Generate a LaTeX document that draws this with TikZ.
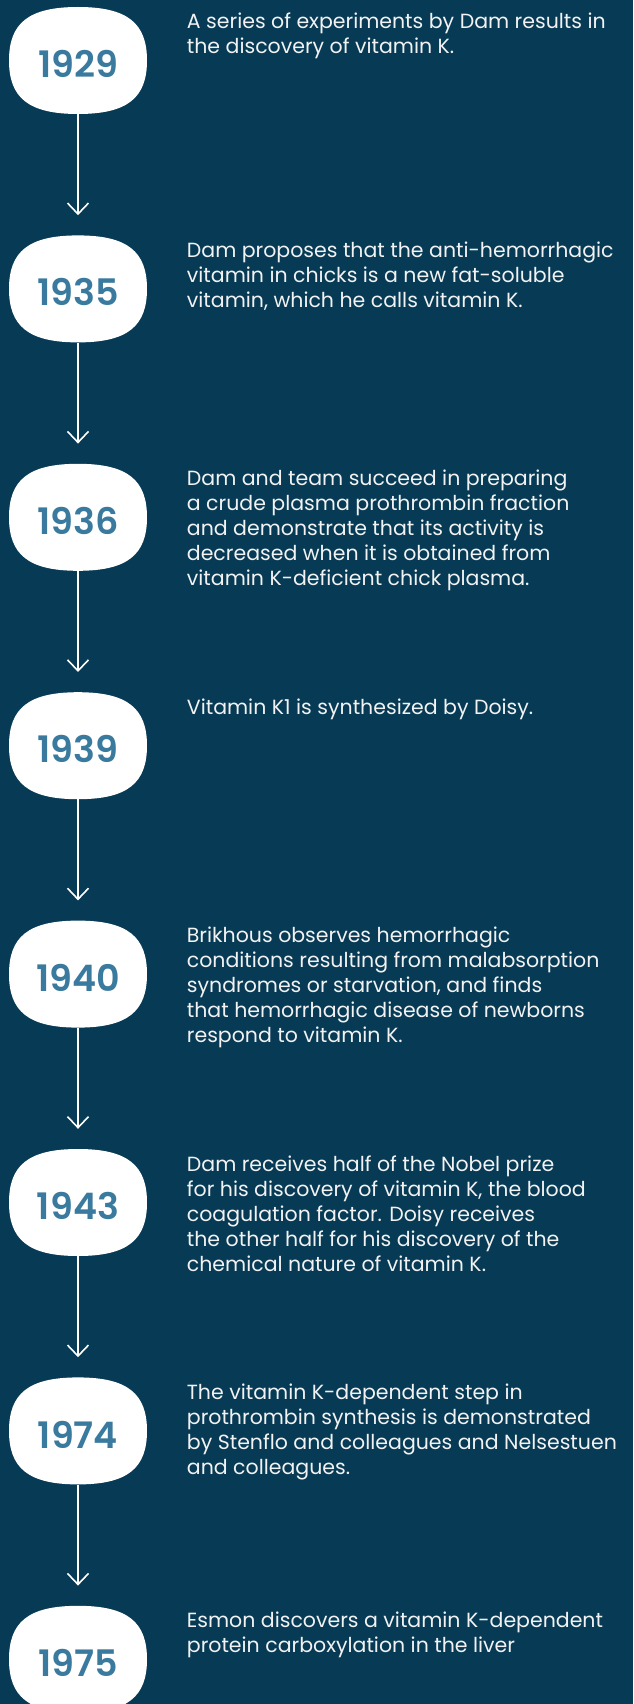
\documentclass[tikz,border=0pt]{standalone}
\usepackage{fontspec}
\setmainfont{Poppins}
\newfontfamily\yearfont{Poppins SemiBold}
\usetikzlibrary{arrows.meta}
\definecolor{bgnavy}{HTML}{063A55}
\definecolor{yearblue}{HTML}{3A7A9E}
\definecolor{txtwhite}{HTML}{F2F2F2}
\newcommand{\desc}[1]{\fontsize{20.5}{25}\selectfont\begin{tabular}[t]{@{}l@{}}#1\end{tabular}}
\newcommand{\squircle}[1]{\fill[white, shift={(#1.center)}]
  (0,-53.5) .. controls (50,-53.5) and (69,-37) .. (69,0)
  .. controls (69,37) and (50,53.5) .. (0,53.5)
  .. controls (-50,53.5) and (-69,37) .. (-69,0)
  .. controls (-69,-37) and (-50,-53.5) .. (0,-53.5) -- cycle;}
\tikzset{
  yearbox/.style={draw=none, fill=none, minimum width=138pt, minimum height=107pt, inner sep=0pt},
  yeartext/.style={text=yearblue, font=\yearfont\fontsize{36.5}{36.5}\selectfont, inner sep=0pt},
  desctext/.style={text=txtwhite, anchor=base west, inner sep=0pt},
  link/.style={draw=white, line width=1.6pt, -{Straight Barb[length=11pt,width=21pt,line width=1.6pt]}, shorten >=20pt}
}
\begin{document}
\begin{tikzpicture}[x=1pt, y=-1pt]
\useasboundingbox (0,0) rectangle (633,1704);
\clip (0,0) rectangle (633,1704);
\fill[bgnavy] (0,0) rectangle (633,1704);
% year boxes
\node[yearbox] (b1) at (78,60.5) {};
\node[yearbox] (b2) at (78,288.9) {};
\node[yearbox] (b3) at (78,517.3) {};
\node[yearbox] (b4) at (78,745.7) {};
\node[yearbox] (b5) at (78,974.1) {};
\node[yearbox] (b6) at (78,1202.5) {};
\node[yearbox] (b7) at (78,1430.9) {};
\node[yearbox] (b8) at (78,1659.3) {};
\squircle{b1}\squircle{b2}\squircle{b3}\squircle{b4}
\squircle{b5}\squircle{b6}\squircle{b7}\squircle{b8}
% year labels
\node[yeartext] (y1) at ([yshift=-3.5pt]b1.center) {1929};
\node[yeartext] (y2) at ([yshift=-3.5pt]b2.center) {1935};
\node[yeartext] (y3) at ([yshift=-3.5pt]b3.center) {1936};
\node[yeartext] (y4) at ([yshift=-3.5pt]b4.center) {1939};
\node[yeartext] (y5) at ([yshift=-3.5pt]b5.center) {1940};
\node[yeartext] (y6) at ([yshift=-3.5pt]b6.center) {1943};
\node[yeartext] (y7) at ([yshift=-3.5pt]b7.center) {1974};
\node[yeartext] (y8) at ([yshift=-3.5pt]b8.center) {1975};
% connectors
\draw[link] (b1) -- (b2);
\draw[link] (b2) -- (b3);
\draw[link] (b3) -- (b4);
\draw[link] (b4) -- (b5);
\draw[link] (b5) -- (b6);
\draw[link] (b6) -- (b7);
\draw[link] (b7) -- (b8);
% descriptions
\node[desctext] (d1) at (186.7,29) {\desc{A series of experiments by Dam results in\\the discovery of vitamin K.}};
\node[desctext] (d2) at (186.7,257.4) {\desc{Dam proposes that the anti-hemorrhagic\\vitamin in chicks is a new fat-soluble\\vitamin, which he calls vitamin K.}};
\node[desctext] (d3) at (186.7,485.8) {\desc{Dam and team succeed in preparing\\a crude plasma prothrombin fraction\\and demonstrate that its activity is\\decreased when it is obtained from\\vitamin K-deficient chick plasma.}};
\node[desctext] (d4) at (186.7,714.2) {\desc{Vitamin K1 is synthesized by Doisy.}};
\node[desctext] (d5) at (186.7,942.6) {\desc{Brikhous observes hemorrhagic\\conditions resulting from malabsorption\\syndromes or starvation, and finds\\that hemorrhagic disease of newborns\\respond to vitamin K.}};
\node[desctext] (d6) at (186.7,1171) {\desc{Dam receives half of the Nobel prize\\for his discovery of vitamin K, the blood\\coagulation factor. Doisy receives\\the other half for his discovery of the\\chemical nature of vitamin K.}};
\node[desctext] (d7) at (186.7,1399.4) {\desc{The vitamin K-dependent step in\\prothrombin synthesis is demonstrated\\by Stenflo and colleagues and Nelsestuen\\and colleagues.}};
\node[desctext] (d8) at (186.7,1627.8) {\desc{Esmon discovers a vitamin K-dependent\\protein carboxylation in the liver}};
\end{tikzpicture}
\end{document}
